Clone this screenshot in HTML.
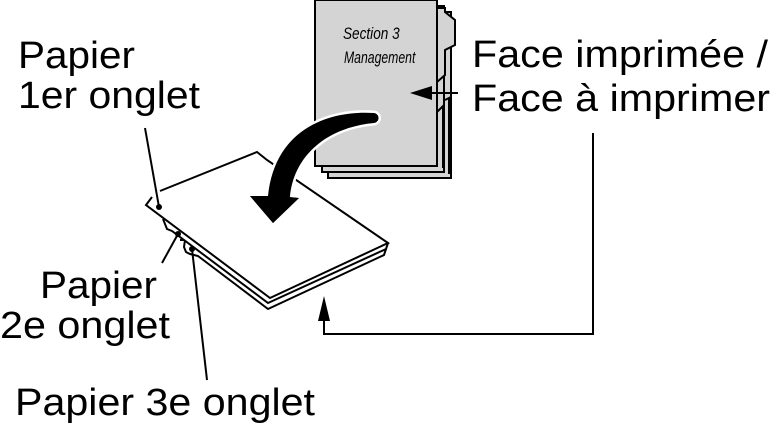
<!DOCTYPE html>
<html><head><meta charset="utf-8"><style>
html,body{margin:0;padding:0;background:#fff;}
svg{display:block;}
text{font-family:"Liberation Sans",Arial,sans-serif;fill:#000;}
</style></head><body>
<svg width="772" height="430" viewBox="0 0 772 430" xmlns="http://www.w3.org/2000/svg">
<!-- folder back sheets -->
<rect x="328" y="12" width="123" height="166" fill="#d4d4d4" stroke="#000" stroke-width="2"/>
<rect x="322" y="6" width="122" height="166" fill="#d4d4d4" stroke="#000" stroke-width="2"/>
<!-- tabs -->
<path d="M437 8 L445 8 L445 12 L455 20 L455 45 L445 50 L445 75 L437 82" fill="#d4d4d4" stroke="#000" stroke-width="2"/>
<path d="M437 112 L443 106 L443 168" fill="none" stroke="#000" stroke-width="2"/>
<path d="M445 100 L449 98 L449 174" fill="none" stroke="#000" stroke-width="2"/>
<!-- front folder sheet -->
<rect x="315" y="0" width="122" height="166" fill="#d4d4d4" stroke="#000" stroke-width="2"/>
<text transform="translate(343,39) scale(0.8,1)" font-size="17" font-style="italic">Section 3</text>
<text transform="translate(344,63) scale(0.72,1)" font-size="17" font-style="italic">Management</text>
<!-- arrow into folder -->
<line x1="458" y1="93" x2="428" y2="93" stroke="#000" stroke-width="2"/>
<polygon points="410,93 432,86 432,100" fill="#000"/>
<!-- sheets stack -->
<path d="M180 240 L185 240 L184 247 L186 252 L190 254 L198 256 L268 309 L384 255 L386 249" fill="#fff" stroke="#000" stroke-width="2"/>
<path d="M163 219 L167 229 L172 231 L268 303 L386 249 L388 243" fill="#fff" stroke="#000" stroke-width="2"/>
<path d="M160 191 L257 152 L267 160 L388 243 L270 298 L146 205 L152 197" fill="#fff" stroke="#000" stroke-width="2"/>
<!-- curved big arrow -->
<path d="M374 113 C330 110 275 128 268 196 L250 196 L273 223 L299 198 L290 197 C293 160 322 128 374 123 C380 122 380 114 374 113 Z" fill="#000" stroke="#fff" stroke-width="5" paint-order="stroke"/>
<polygon points="250,196 273,223 299,198" fill="#000"/>
<!-- connector -->
<path d="M593 133 L593 334 L324 334 L324 318" fill="none" stroke="#000" stroke-width="2"/>
<polygon points="324,296 318,321 330,321" fill="#000"/>
<!-- leaders -->
<line x1="145" y1="128" x2="159" y2="207" stroke="#000" stroke-width="2"/>
<circle cx="159" cy="207" r="3" fill="#000"/>
<line x1="162" y1="263" x2="178" y2="234" stroke="#000" stroke-width="2"/>
<circle cx="178" cy="234" r="3" fill="#000"/>
<line x1="207" y1="380" x2="192" y2="249" stroke="#000" stroke-width="2"/>
<circle cx="192" cy="249" r="3" fill="#000"/>
<!-- labels -->
<text x="18" y="68" font-size="38" textLength="117" lengthAdjust="spacingAndGlyphs">Papier</text>
<text x="18" y="108" font-size="38" textLength="182" lengthAdjust="spacingAndGlyphs">1er onglet</text>
<text x="472" y="67" font-size="38" textLength="296" lengthAdjust="spacingAndGlyphs">Face imprimée /</text>
<text x="472" y="111" font-size="38" textLength="298" lengthAdjust="spacingAndGlyphs">Face à imprimer</text>
<text x="40" y="298" font-size="38" textLength="117" lengthAdjust="spacingAndGlyphs">Papier</text>
<text x="0" y="338" font-size="38" textLength="170" lengthAdjust="spacingAndGlyphs">2e onglet</text>
<text x="15" y="415" font-size="38" textLength="300" lengthAdjust="spacingAndGlyphs">Papier 3e onglet</text>
</svg>
</body></html>
